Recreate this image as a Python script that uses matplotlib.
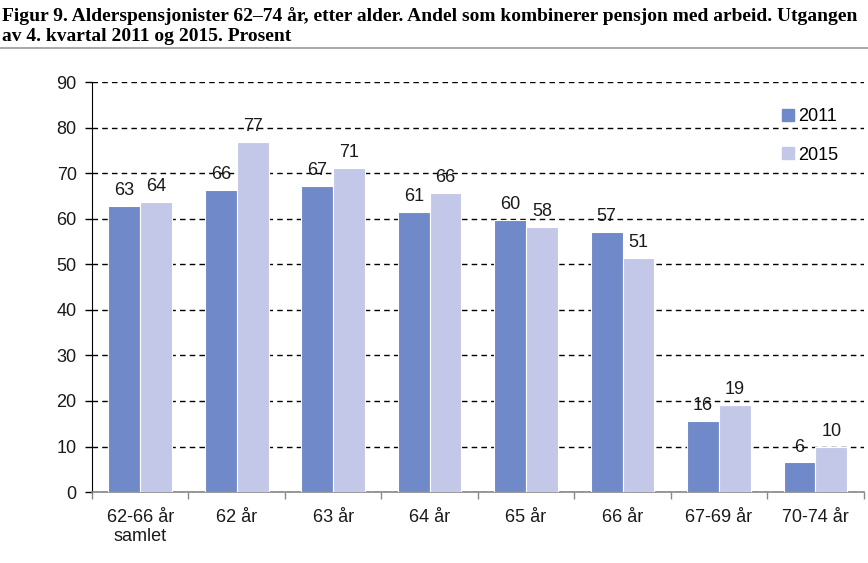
import numpy as np
import matplotlib.pyplot as plt
from matplotlib.lines import Line2D

# Andel som kombinerer pensjon med arbeid, prosent
categories = ['62-66 år\nsamlet', '62 år', '63 år', '64 år', '65 år', '66 år', '67-69 år', '70-74 år']
vals_2011 = [63, 66, 67, 61, 60, 57, 16, 6]
vals_2015 = [64, 77, 71, 66, 58, 51, 19, 10]
bar_2011 = [62.8, 66.3, 67.3, 61.4, 59.7, 57.2, 15.7, 6.5]
bar_2015 = [63.7, 76.8, 71.2, 65.6, 58.2, 51.3, 19.2, 9.8]
yticks = list(range(0, 91, 10))

c2011 = '#6f89c9'
c2015 = '#c4c8e8'
fs = 13

plt.rcParams['font.family'] = ['Liberation Sans', 'DejaVu Sans']

fig = plt.figure(figsize=(8.68, 5.63), dpi=100)
ax = fig.add_axes([0.106, 0.126, 0.889, 0.728])

x = np.arange(len(categories))
w = 0.33
b1 = ax.bar(x - w / 2, bar_2011, w, color=c2011, edgecolor='white', linewidth=0.8, zorder=3)
b2 = ax.bar(x + w / 2, bar_2015, w, color=c2015, edgecolor='white', linewidth=0.8, zorder=3)

for rect, v in zip(b1, vals_2011):
    ax.annotate(str(v), (rect.get_x() + rect.get_width() / 2, rect.get_height()),
                xytext=(0, 5), textcoords='offset points', ha='center', va='bottom',
                fontsize=fs, color='#1a1a1a', zorder=4)
for rect, v in zip(b2, vals_2015):
    ax.annotate(str(v), (rect.get_x() + rect.get_width() / 2, rect.get_height()),
                xytext=(0, 5), textcoords='offset points', ha='center', va='bottom',
                fontsize=fs, color='#1a1a1a', zorder=4)

ax.set_xlim(-0.5, len(categories) - 0.5)
ax.set_ylim(0, 90)
ax.set_yticks(yticks)
ax.set_xticks(x)
ax.set_xticklabels(categories, fontsize=fs, color='#1a1a1a', linespacing=1.2)
ax.set_xticks(np.arange(-0.5, len(categories), 1), minor=True)
ax.tick_params(axis='x', which='major', length=0, pad=12)
ax.tick_params(axis='x', which='minor', length=5, color='#888888', width=1)
ax.tick_params(axis='y', length=5, width=1, labelsize=fs, labelcolor='#1a1a1a', pad=6)

ax.yaxis.grid(True, linestyle=(0, (4, 3)), color='black', linewidth=1, zorder=0)
ax.spines['top'].set_visible(False)
ax.spines['right'].set_visible(False)
ax.spines['bottom'].set_color('#888888')
ax.spines['bottom'].set_linewidth(1.2)
ax.spines['left'].set_color('black')

handles = [Line2D([], [], marker='s', linestyle='', markersize=8, color=c) for c in (c2011, c2015)]
ax.legend(handles, ['2011', '2015'], loc='upper left', bbox_to_anchor=(0.885, 0.955),
          frameon=False, fontsize=fs, handlelength=0.6, handletextpad=0.3,
          labelspacing=1.2, borderaxespad=0)

fig.text(0.002, 0.988, 'Figur 9. Alderspensjonister 62–74 år, etter alder. Andel som kombinerer pensjon med arbeid. Utgangen\n'
         'av 4. kvartal 2011 og 2015. Prosent', fontfamily='Liberation Serif', fontweight='bold',
         fontsize=14, va='top', ha='left', linespacing=1.25)
fig.add_artist(Line2D([0, 1], [0.914, 0.914], color='#999999', linewidth=1.2, transform=fig.transFigure))

fig.savefig('out.png', dpi=100)
